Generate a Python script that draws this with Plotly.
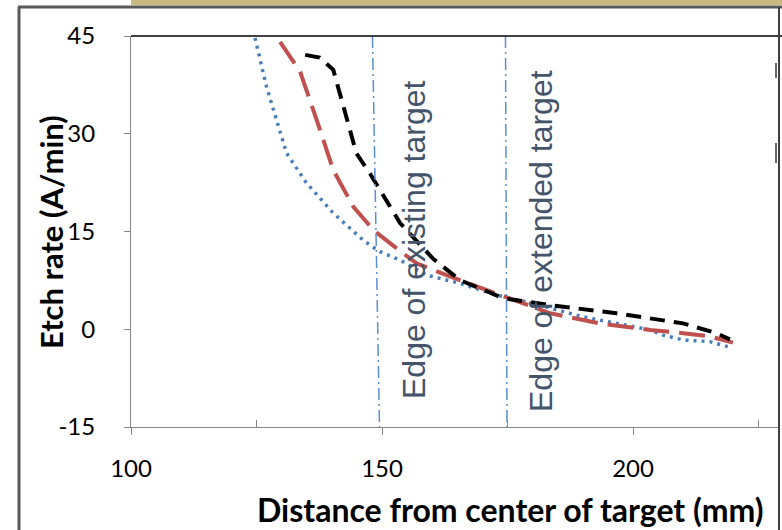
import plotly.graph_objects as go

# Data
blue_x = [124.7, 127.0, 131.0, 135.0, 140.2, 143.6, 146.2, 148.6, 149.6, 153.6, 158.9, 165.5, 172.8, 178.8, 184.8, 190.1, 196.8, 203.4, 206.0, 210.0, 215.3, 219.0]
blue_y = [44.7, 37.2, 27.0, 22.4, 17.9, 15.5, 13.7, 12.4, 11.9, 10.6, 8.3, 7.05, 5.25, 4.2, 2.95, 1.9, 0.9, -0.1, -0.9, -1.65, -1.9, -2.7]

red_x = [129.7, 133.7, 137.0, 140.3, 144.3, 148.3, 153.6, 156.9, 163.5, 173.5, 183.5, 193.4, 203.4, 210.0, 215.3, 219.9]
red_y = [44.1, 39.5, 32.1, 24.4, 18.8, 15.2, 12.0, 10.1, 8.1, 5.26, 2.45, 0.9, -0.1, -0.6, -1.1, -2.05]

black_x = [134.7, 137.6, 140.3, 142.9, 144.9, 147.6, 150.2, 153.6, 160.2, 165.5, 174.2, 183.5, 196.7, 210.0, 216.6, 219.3]
black_y = [42.1, 41.7, 39.8, 32.6, 27.0, 23.9, 20.5, 16.3, 10.8, 7.56, 4.75, 3.7, 2.45, 0.9, -0.6, -1.55]

edge_existing = [148.1, 149.5]   # top, bottom x of the drawn marker line
edge_extended = [174.6, 174.9]
y_ticks = [-15, 0, 15, 30, 45]
y_tick_text = ["-15", "0", "15", "30", "45"]
x_ticks = [100, 150, 200]
x_minor_ticks = [125, 175, 225]

fig = go.Figure()
fig.add_trace(go.Scatter(x=blue_x, y=blue_y, mode="lines",
                         line=dict(color="#4A7EBB", width=3.5, dash="3px,5px"), showlegend=False))
fig.add_trace(go.Scatter(x=red_x, y=red_y, mode="lines",
                         line=dict(color="#C0504D", width=4, dash="26px,10px"), showlegend=False))
fig.add_trace(go.Scatter(x=black_x, y=black_y, mode="lines",
                         line=dict(color="#000000", width=4, dash="15px,9px"), showlegend=False))

# vertical edge markers
for xs in (edge_existing, edge_extended):
    fig.add_trace(go.Scatter(x=xs, y=[45, -15], mode="lines",
                             line=dict(color="#5B8FD0", width=1.5, dash="12px,4px,2px,4px"),
                             showlegend=False, hoverinfo="skip"))

W, H = 782, 530
L, R, T, B = 131, 4, 36, 103
pw, ph = W - L - R, H - T - B

def px(xp):
    return (xp - L) / pw

def py(yp):
    return (H - B - yp) / ph

fig.update_layout(
    width=W, height=H,
    margin=dict(l=L, r=R, t=T, b=B),
    paper_bgcolor="white", plot_bgcolor="white",
    font=dict(family="Lato, Liberation Sans, sans-serif", color="#000"),
    xaxis=dict(range=[100, 100 + pw / 5.02], tickvals=x_ticks, ticks="outside", ticklen=7,
               tickcolor="#868686", showline=True, linecolor="#868686", linewidth=1,
               showgrid=False, zeroline=False, tickfont=dict(size=24, family="Lato"),
               ticklabelstandoff=13,
               minor=dict(tickvals=x_minor_ticks, ticks="inside", ticklen=7, tickcolor="#868686")),
    yaxis=dict(range=[-15, 45], tickvals=y_ticks, ticktext=y_tick_text, ticks="outside", ticklen=6,
               tickcolor="#868686", showline=True, linecolor="#868686", linewidth=1,
               showgrid=False, zeroline=False, tickfont=dict(size=24, family="Lato"),
               ticklabelstandoff=24),
)

shapes = [
    dict(type="line", xref="paper", yref="paper", x0=0, x1=px(782), y0=1, y1=1,
         line=dict(color="#000", width=1.5)),
    dict(type="line", xref="paper", yref="paper", x0=px(18), x1=px(782), y0=py(7), y1=py(7),
         line=dict(color="#595959", width=3)),
    dict(type="line", xref="paper", yref="paper", x0=px(19), x1=px(19), y0=py(7), y1=py(531),
         line=dict(color="#595959", width=3)),
    dict(type="line", xref="paper", yref="paper", x0=px(779), x1=px(779), y0=py(7), y1=py(531),
         line=dict(color="#404040", width=2)),
    dict(type="rect", xref="paper", yref="paper", x0=px(131), x1=px(782), y0=py(0), y1=py(5),
         fillcolor="#C8B97E", line=dict(width=0)),
    dict(type="line", xref="paper", yref="paper", x0=px(776), x1=px(776), y0=py(63), y1=py(78),
         line=dict(color="#333", width=1.5)),
    dict(type="line", xref="paper", yref="paper", x0=px(776), x1=px(776), y0=py(143), y1=py(163),
         line=dict(color="#333", width=1.5)),
]
fig.update_layout(shapes=shapes)

common = dict(xref="paper", yref="paper", showarrow=False, xanchor="center", yanchor="middle")
anns = [
    dict(text="<b>Distance from center of target (mm)</b>", x=px(510), y=py(509),
         font=dict(size=32, family="Lato"), **common),
    dict(text="<b>Etch rate (A/min)</b>", x=px(51), y=py(232), textangle=-90,
         font=dict(size=31, family="Lato"), **common),
    dict(text="Edge of existing target", x=px(414), y=py(240), textangle=-90,
         font=dict(size=32, family="Liberation Sans", color="#44546A"), **common),
    dict(text="Edge of extended target", x=px(541), y=py(241), textangle=-90,
         font=dict(size=32, family="Liberation Sans", color="#44546A"), **common),
]
fig.update_layout(annotations=anns)

fig.write_html("out.html", config={"displayModeBar": False},
               post_script="document.body.style.margin='0';")
